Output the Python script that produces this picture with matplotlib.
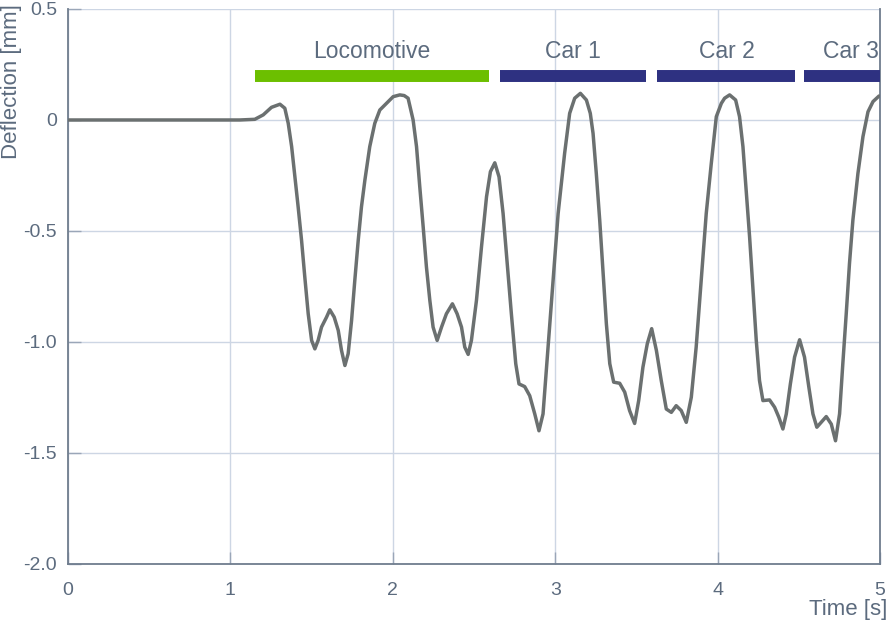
import matplotlib.pyplot as plt

plt.rcParams["font.family"] = ["Liberation Sans", "DejaVu Sans"]

# deflection trace (time [s], deflection [mm])
time_s = [0.0, 0.5, 1.0, 1.058, 1.15, 1.202, 1.253, 1.305, 1.335, 1.356, 1.377,
          1.397, 1.417, 1.438, 1.458, 1.479, 1.50, 1.52, 1.54, 1.561, 1.592,
          1.612, 1.639, 1.664, 1.684, 1.705, 1.725, 1.746, 1.766, 1.787, 1.807,
          1.828, 1.858, 1.889, 1.92, 1.961, 2.002, 2.043, 2.07, 2.094, 2.125,
          2.146, 2.166, 2.187, 2.207, 2.228, 2.248, 2.273, 2.30, 2.33, 2.367,
          2.396, 2.423, 2.443, 2.464, 2.484, 2.515, 2.546, 2.577, 2.601, 2.628,
          2.654, 2.679, 2.703, 2.73, 2.757, 2.777, 2.812, 2.843, 2.874, 2.90,
          2.925, 2.956, 2.987, 3.018, 3.058, 3.089, 3.12, 3.155, 3.192, 3.216,
          3.233, 3.253, 3.274, 3.295, 3.315, 3.336, 3.36, 3.397, 3.428, 3.458,
          3.489, 3.514, 3.54, 3.567, 3.594, 3.623, 3.653, 3.684, 3.715, 3.745,
          3.776, 3.807, 3.838, 3.868, 3.899, 3.93, 3.961, 3.992, 4.023, 4.043,
          4.074, 4.111, 4.135, 4.156, 4.176, 4.197, 4.217, 4.238, 4.258, 4.279,
          4.32, 4.351, 4.377, 4.402, 4.423, 4.448, 4.474, 4.505, 4.535, 4.562,
          4.587, 4.611, 4.638, 4.669, 4.70, 4.726, 4.751, 4.771, 4.792, 4.812,
          4.833, 4.864, 4.895, 4.926, 4.957, 4.994]
deflection_mm = [0.0, 0.0, 0.0, 0.0, 0.003, 0.023, 0.057, 0.071, 0.053, -0.015, -0.12,
                 -0.256, -0.391, -0.542, -0.707, -0.873, -0.993, -1.031, -0.993, -0.933, -0.888,
                 -0.855, -0.888, -0.948, -1.038, -1.106, -1.053, -0.903, -0.722, -0.542, -0.391,
                 -0.271, -0.12, -0.015, 0.045, 0.075, 0.105, 0.113, 0.11, 0.098, 0.0,
                 -0.12, -0.301, -0.482, -0.662, -0.813, -0.933, -0.993, -0.933, -0.873, -0.828,
                 -0.873, -0.933, -1.023, -1.056, -0.993, -0.813, -0.572, -0.346, -0.233, -0.193,
                 -0.256, -0.421, -0.632, -0.873, -1.098, -1.189, -1.201, -1.242, -1.324, -1.40,
                 -1.324, -1.023, -0.722, -0.421, -0.15, 0.03, 0.098, 0.12, 0.09, 0.03,
                 -0.06, -0.241, -0.451, -0.692, -0.918, -1.098, -1.181, -1.186, -1.226, -1.309,
                 -1.367, -1.264, -1.114, -1.008, -0.94, -1.038, -1.174, -1.302, -1.317, -1.287,
                 -1.309, -1.362, -1.249, -1.023, -0.722, -0.421, -0.196, 0.015, 0.075, 0.098,
                 0.113, 0.09, 0.015, -0.12, -0.316, -0.527, -0.753, -0.993, -1.174, -1.264,
                 -1.261, -1.294, -1.339, -1.392, -1.324, -1.189, -1.068, -0.99, -1.068, -1.204,
                 -1.324, -1.384, -1.362, -1.336, -1.37, -1.445, -1.324, -1.098, -0.873, -0.647,
                 -0.451, -0.241, -0.075, 0.037, 0.083, 0.108]

# vehicle segments shown as bars above the trace
seg_names = ["Locomotive", "Car 1", "Car 2", "Car 3"]
seg_start = [1.15, 2.66, 3.625, 4.53]
seg_end = [2.59, 3.557, 4.474, 5.0]
seg_label_x = [1.87, 3.11, 4.055, 4.82]
seg_colors = ["#6cbf00", "#2e3181", "#2e3181", "#2e3181"]

text_col = "#5c6b7e"
grid_col = "#cdd6e4"
spine_col = "#6f7d8e"

fig = plt.figure(figsize=(8.88, 6.24), dpi=100)
ax = fig.add_axes([0.0766, 0.0962, 0.9144, 0.8894])

ax.plot(time_s, deflection_mm, color="#6b7070", lw=2.5,
        solid_capstyle="round", solid_joinstyle="round", zorder=3)

bar_y = 0.198
for name, s, e, xl, c in zip(seg_names, seg_start, seg_end, seg_label_x, seg_colors):
    ax.plot([s, e], [bar_y, bar_y], color=c, lw=8.6, solid_capstyle="butt", zorder=4)
    ax.text(xl, 0.307, name, ha="center", va="center", fontsize=16.5, color=text_col)

ax.set_xlim(0, 5)
ax.set_ylim(-2.0, 0.5)
ax.set_xticks([0, 1, 2, 3, 4, 5])
ax.set_yticks([0.5, 0, -0.5, -1.0, -1.5, -2.0])
ax.set_yticklabels(["0.5", "0", "-0.5", "-1.0", "-1.5", "-2.0"])
ax.tick_params(direction="in", length=9, width=1.0, color="#9aa6b8",
               labelsize=14, labelcolor=text_col)
ax.tick_params(axis="x", pad=13)
ax.tick_params(axis="y", pad=8)
ax.grid(True, color=grid_col, lw=1.0)
ax.set_axisbelow(True)
for side in ["left", "bottom", "right"]:
    ax.spines[side].set_color(spine_col)
    ax.spines[side].set_linewidth(1.3)
ax.spines["top"].set_visible(False)

fig.text(12 / 888, 1 - 4 / 624, "Deflection [mm]", rotation=90, ha="center", va="top",
         fontsize=16, color=text_col)
fig.text(887 / 888, 14 / 624, "Time [s]", ha="right", va="center", fontsize=16, color=text_col)

fig.savefig("out.png", dpi=100)
